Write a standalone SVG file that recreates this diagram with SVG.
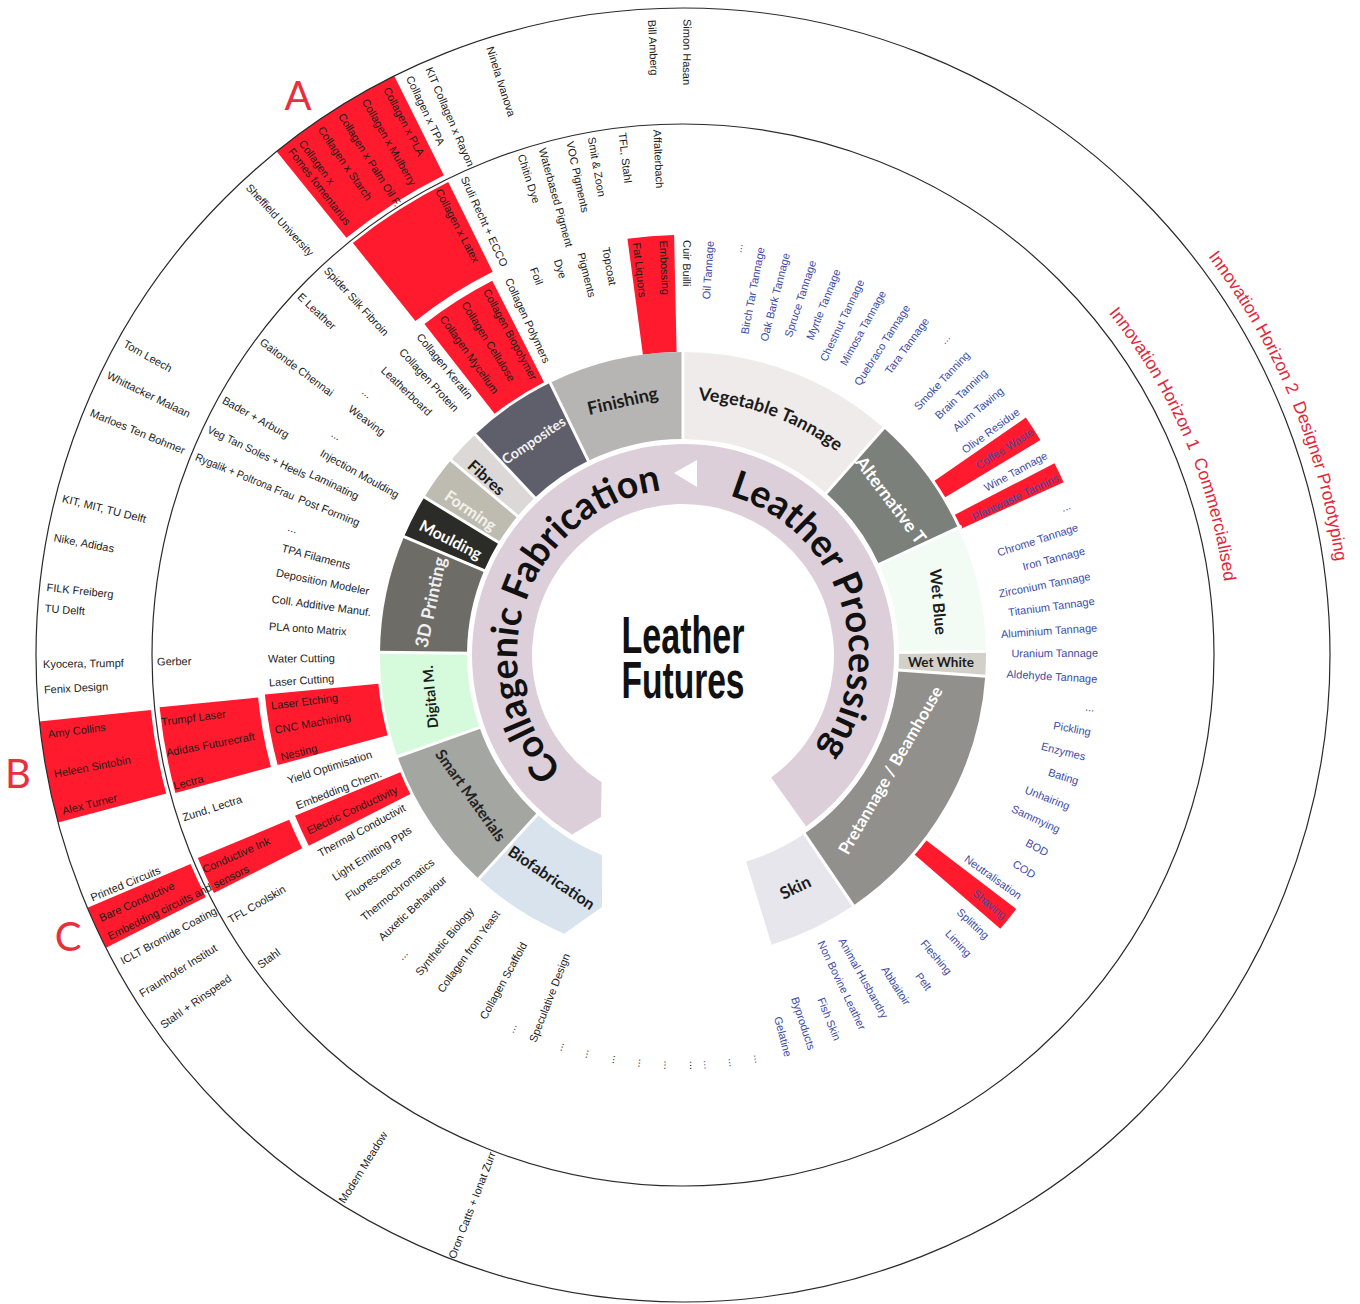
<svg xmlns="http://www.w3.org/2000/svg" width="1360" height="1304" viewBox="0 0 1360 1304">
<defs>
<style>
text{font-family:"Liberation Sans",Arial,sans-serif;font-size:11px;fill:#1b1b1b;dominant-baseline:central}
.bl{fill:#3c4ba8}
.e{text-anchor:end}
.lab{font-family:Lato,"Open Sans",sans-serif;font-weight:700;text-anchor:middle}
.wt{fill:#fff}
.arc{dominant-baseline:auto}
.big{font-family:Lato,"Open Sans",sans-serif;font-weight:700;font-size:38px;fill:#111;dominant-baseline:auto}
.hz{font-size:17.5px;fill:#e3263a;dominant-baseline:auto}
.ctr{font-family:"Liberation Sans",Arial,sans-serif;font-weight:700;font-size:52px;fill:#111;text-anchor:middle;dominant-baseline:auto}
.letter{font-family:Lato,"Liberation Sans",sans-serif;font-size:40px;fill:#e8303c;text-anchor:middle;dominant-baseline:auto}
.ring{fill:none;stroke:#2a2a2a;stroke-width:1.2}
.seg{fill:none;stroke-width:87}
.red{fill:none;stroke:#ff1a2d}
.gap{stroke:#fff;stroke-width:3}
</style>
<path id="arcCollagenic" d="M-120.4,114.3 A166,166 0 0 1 -11.6,-165.6"/>
<path id="arcLeather" d="M46.3,-159.4 A166,166 0 0 1 127.2,106.7"/>
<path id="arcVeg" d="M-43,-251.4 A255,255 0 0 1 196.2,-162.9"/>
<path id="arcH1" d="M425.5,-342.1 A546,546 0 0 1 545.7,-19.1"/>
<path id="arcH2" d="M524.9,-398.4 A659,659 0 0 1 658.6,-23"/>
<clipPath id="clipAlt"><polygon points="0,0 265,-299.6 362.2,-169.7"/></clipPath>
</defs>
<rect width="1360" height="1304" fill="#fff"/>
<g transform="translate(683 655)">

<!-- highlighted cells -->
<g id="highlights">
<circle class="red" r="591.5" stroke-width="111" stroke-dasharray="128.01 4000" transform="rotate(231.1)"/>
<circle class="red" r="478" stroke-width="100" stroke-dasharray="102.61 4000" transform="rotate(231.3)"/>
<circle class="red" r="363" stroke-width="114" stroke-dasharray="69.69 4000" transform="rotate(232)"/>
<circle class="red" r="361.5" stroke-width="117" stroke-dasharray="40.38 4000" transform="rotate(262.4)"/>
<circle class="red" r="361.5" stroke-width="111" stroke-dasharray="23.34 4000" transform="rotate(325.3)"/>
<circle class="red" r="362" stroke-width="112" stroke-dasharray="18.32 4000" transform="rotate(332.7)"/>
<circle class="red" r="362.5" stroke-width="113" stroke-dasharray="22.14 4000" transform="rotate(37.3)"/>
<circle class="red" r="591" stroke-width="112" stroke-dasharray="93.87 4000" transform="rotate(165)"/>
<circle class="red" r="476.5" stroke-width="99" stroke-dasharray="79.01 4000" transform="rotate(164.8)"/>
<circle class="red" r="363" stroke-width="114" stroke-dasharray="62.09 4000" transform="rotate(164.8)"/>
<circle class="red" r="591" stroke-width="112" stroke-dasharray="40.23 4000" transform="rotate(153.1)"/>
<circle class="red" r="476.5" stroke-width="99" stroke-dasharray="34.93 4000" transform="rotate(153.1)"/>
<circle class="red" r="363" stroke-width="114" stroke-dasharray="28.51 4000" transform="rotate(153)"/>
</g>

<g id="horizon-rings">
<circle class="ring" r="531"/>
<circle class="ring" r="647"/>
</g>

<!-- process / technique column -->
<g id="techniques">
<text transform="rotate(90.6)" x="-415">Cuir Builli</text>
<text transform="rotate(87.3)" x="-415">Embossing</text>
<text transform="rotate(83.6)" x="-415">Fat Liquors</text>
<text transform="rotate(79.3)" x="-415">Topcoat</text>
<text transform="rotate(75.8)" x="-415">Pigments</text>
<text transform="rotate(72.4)" x="-415">Dye</text>
<text transform="rotate(68.9)" x="-415">Foil</text>
<text transform="rotate(65.1)" x="-415">Collagen Polymers</text>
<text transform="rotate(61.7)" x="-415">Collagen Biopolymer</text>
<text transform="rotate(58.2)" x="-415">Collagen Cellulose</text>
<text transform="rotate(54.6)" x="-415">Collagen Mycelium</text>
<text transform="rotate(50.5)" x="-415">Collagen Keratin</text>
<text transform="rotate(47.3)" x="-415">Collagen Protein</text>
<text transform="rotate(43.7)" x="-415">Leatherboard</text>
<text transform="rotate(39.7)" x="-415">...</text>
<text transform="rotate(36.6)" x="-415">Weaving</text>
<text transform="rotate(32.4)" x="-415">...</text>
<text transform="rotate(29.3)" x="-415">Injection Moulding</text>
<text transform="rotate(26)" x="-415">Laminating</text>
<text transform="rotate(22.2)" x="-415">Post Forming</text>
<text transform="rotate(18)" x="-415">...</text>
<text transform="rotate(15)" x="-415">TPA Filaments</text>
<text transform="rotate(11.5)" x="-415">Deposition Modeler</text>
<text transform="rotate(7.8)" x="-415">Coll. Additive Manuf.</text>
<text transform="rotate(4)" x="-415">PLA onto Matrix</text>
<text transform="rotate(-0.5)" x="-415">Water Cutting</text>
<text transform="rotate(-3.8)" x="-415">Laser Cutting</text>
<text transform="rotate(-7)" x="-415">Laser Etching</text>
<text transform="rotate(-10.4)" x="-415">CNC Machining</text>
<text transform="rotate(-14.2)" x="-415">Nesting</text>
<text transform="rotate(-17.6)" x="-415">Yield Optimisation</text>
<text transform="rotate(-21.3)" x="-415">Embedding Chem.</text>
<text transform="rotate(-25.1)" x="-415">Electric Conductivity</text>
<text transform="rotate(-28.6)" x="-415">Thermal Conductivit</text>
<text transform="rotate(-32.5)" x="-415">Light Emitting Ppts</text>
<text transform="rotate(-35.8)" x="-415">Fluorescence</text>
<text transform="rotate(-39.4)" x="-415">Thermochromatics</text>
<text transform="rotate(-43.1)" x="-415">Auxetic Behaviour</text>
<text transform="rotate(-46.9)" x="-415">...</text>
<text transform="rotate(-50.2)" x="-415">Synthetic Biology</text>
<text transform="rotate(-54.1)" x="-415">Collagen from Yeast</text>
<text transform="rotate(-61.1)" x="-415">Collagen Scaffold</text>
<text transform="rotate(-65.3)" x="-415">...</text>
<text transform="rotate(-68.7)" x="-415">Speculative Design</text>
<text transform="rotate(-72.4)" x="-415">...</text>
<text transform="rotate(-76)" x="-415">...</text>
<text transform="rotate(-79.8)" x="-415">...</text>
<text transform="rotate(-83.4)" x="-415">...</text>
<text transform="rotate(-87)" x="-415">...</text>
<text transform="rotate(-90.6)" x="-415">...</text>
</g>

<!-- leather processing steps -->
<g id="leather-steps">
<text class="bl e" transform="rotate(-86.3)" x="415">Oil Tannage</text>
<text class="bl e" transform="rotate(-82.3)" x="415">...</text>
<text class="bl e" transform="rotate(-79.2)" x="415">Birch Tar Tannage</text>
<text class="bl e" transform="rotate(-75.6)" x="415">Oak Bark Tannage</text>
<text class="bl e" transform="rotate(-71.8)" x="415">Spruce Tannage</text>
<text class="bl e" transform="rotate(-68.2)" x="415">Myrtle Tannage</text>
<text class="bl e" transform="rotate(-64.6)" x="415">Chestnut Tannage</text>
<text class="bl e" transform="rotate(-61.2)" x="415">Mimosa Tannage</text>
<text class="bl e" transform="rotate(-57.3)" x="415">Quebraco Tannage</text>
<text class="bl e" transform="rotate(-54.1)" x="415">Tara Tannage</text>
<text class="bl e" transform="rotate(-50.4)" x="415">...</text>
<text class="bl e" transform="rotate(-46.7)" x="415">Smoke Tanning</text>
<text class="bl e" transform="rotate(-43.2)" x="415">Brain Tanning</text>
<text class="bl e" transform="rotate(-39.8)" x="415">Alum Tawing</text>
<text class="bl e" transform="rotate(-36.1)" x="415">Olive Residue</text>
<text class="bl e" transform="rotate(-32.7)" x="415">Coffee Waste</text>
<text class="bl e" transform="rotate(-28.9)" x="415">Wine Tannage</text>
<text class="bl e" transform="rotate(-25.4)" x="415">Plantwaste Tannins</text>
<text class="bl e" transform="rotate(-21.2)" x="415">...</text>
<text class="bl e" transform="rotate(-18)" x="415">Chrome Tannage</text>
<text class="bl e" transform="rotate(-14.6)" x="415">Iron Tannage</text>
<text class="bl e" transform="rotate(-11)" x="415">Zirconium Tannage</text>
<text class="bl e" transform="rotate(-7.5)" x="415">Titanium Tannage</text>
<text class="bl e" transform="rotate(-3.8)" x="415">Aluminium Tannage</text>
<text class="bl e" transform="rotate(-0.3)" x="415">Uranium Tannage</text>
<text class="bl e" transform="rotate(3.3)" x="415">Aldehyde Tannage</text>
<text class="bl e" transform="rotate(7.3)" x="415">...</text>
<text class="bl e" transform="rotate(10.7)" x="415">Pickling</text>
<text class="bl e" transform="rotate(14.2)" x="415">Enzymes</text>
<text class="bl e" transform="rotate(17.7)" x="415">Bating</text>
<text class="bl e" transform="rotate(21.4)" x="415">Unhairing</text>
<text class="bl e" transform="rotate(24.9)" x="415">Sammying</text>
<text class="bl e" transform="rotate(28.5)" x="415">BOD</text>
<text class="bl e" transform="rotate(32.1)" x="415">COD</text>
<text class="bl e" transform="rotate(35.6)" x="415">Neutralisation</text>
<text class="bl e" transform="rotate(39.1)" x="415">Shaving</text>
<text class="bl e" transform="rotate(42.8)" x="415">Splitting</text>
<text class="bl e" transform="rotate(46.3)" x="415">Liming</text>
<text class="bl e" transform="rotate(50)" x="415">Fleshing</text>
<text class="bl e" transform="rotate(53.6)" x="415">Pelt</text>
<text class="bl e" transform="rotate(57.2)" x="415">Abbaitoir</text>
<text class="bl e" transform="rotate(60.8)" x="415">Animal Husbandry</text>
<text class="bl e" transform="rotate(64.3)" x="415">Non Bovine Leather</text>
<text class="bl e" transform="rotate(68.1)" x="415">Fish Skin</text>
<text class="bl e" transform="rotate(71.9)" x="415">Byproducts</text>
<text class="bl e" transform="rotate(75.3)" x="415">Gelatine</text>
<text class="bl e" transform="rotate(79.4)" x="415">...</text>
<text class="bl e" transform="rotate(83)" x="415">...</text>
<text class="bl e" transform="rotate(86.5)" x="415">...</text>
</g>

<!-- commercial partners, horizon 1 -->
<g id="horizon1">
<text transform="rotate(87.2)" x="-526">Affalterbach</text>
<text transform="rotate(83.4)" x="-526">TFL, Stahl</text>
<text transform="rotate(80)" x="-526">Smit &amp; Zoon</text>
<text transform="rotate(77.6)" x="-526">VOC Pigments</text>
<text transform="rotate(74.5)" x="-526">Waterbased Pigment</text>
<text transform="rotate(72.1)" x="-526">Chitin Dye</text>
<text transform="rotate(65.4)" x="-526">Sruli Recht + ECCO</text>
<text transform="rotate(62.3)" x="-526">Collagen x Latex</text>
<text transform="rotate(47.3)" x="-526">Spider Silk Fibroin</text>
<text transform="rotate(43.2)" x="-526">E Leather</text>
<text transform="rotate(36.7)" x="-526">Gaitonde Chennai</text>
<text transform="rotate(29.1)" x="-526">Bader + Arburg</text>
<text transform="rotate(25.5)" x="-526" textLength="108" lengthAdjust="spacingAndGlyphs">Veg Tan Soles + Heels</text>
<text transform="rotate(22.2)" x="-526" textLength="106" lengthAdjust="spacingAndGlyphs">Rygalik + Poltrona Frau</text>
<text transform="rotate(-0.7)" x="-526">Gerber</text>
<text transform="rotate(-7.3)" x="-526">Trumpf Laser</text>
<text transform="rotate(-10.7)" x="-526">Adidas Futurecraft</text>
<text transform="rotate(-14.4)" x="-526">Lectra</text>
<text transform="rotate(-18)" x="-526">Zund, Lectra</text>
<text transform="rotate(-24.1)" x="-526">Conductive Ink</text>
<text transform="rotate(-30.3)" x="-526">TFL Coolskin</text>
<text transform="rotate(-36.2)" x="-526">Stahl</text>
</g>

<!-- designers and labs, horizon 2 -->
<g id="horizon2">
<text transform="rotate(90.4)" x="-636">Simon Hasan</text>
<text transform="rotate(87.2)" x="-636">Bill Amberg</text>
<text transform="rotate(72.4)" x="-638">Ninela Ivanova</text>
<text transform="rotate(66.6)" x="-640">KIT Collagen x Rayon</text>
<text transform="rotate(64.7)" x="-640">Collagen x TPA</text>
<text transform="rotate(62.4)" x="-640">Collagen x PLA</text>
<text transform="rotate(60.2)" x="-640">Collagen x Mulberry</text>
<text transform="rotate(57.7)" x="-640">Collagen x Palm Oil F.</text>
<text transform="rotate(55.5)" x="-640">Collagen x Starch</text>
<text transform="rotate(53.4)" x="-640">Collagen x</text>
<text transform="rotate(52.2)" x="-640">Fomes fomentarius</text>
<text transform="rotate(47.2)" x="-640">Sheffield University</text>
<text transform="rotate(29.2)" x="-640">Tom Leech</text>
<text transform="rotate(26)" x="-640">Whittacker Malaan</text>
<text transform="rotate(22.3)" x="-640">Marloes Ten Bohmer</text>
<text transform="rotate(14.2)" x="-640">KIT, MIT, TU Delft</text>
<text transform="rotate(10.6)" x="-640">Nike, Adidas</text>
<text transform="rotate(6.1)" x="-640">FILK Freiberg</text>
<text transform="rotate(4.2)" x="-640">TU Delft</text>
<text transform="rotate(-0.8)" x="-640">Kyocera, Trumpf</text>
<text transform="rotate(-3.1)" x="-640">Fenix Design</text>
<text transform="rotate(-7.1)" x="-640">Amy Collins</text>
<text transform="rotate(-10.7)" x="-640">Heleen Sintobin</text>
<text transform="rotate(-14.1)" x="-640">Alex Turner</text>
<text transform="rotate(-22.3)" x="-640">Printed Circuits</text>
<text transform="rotate(-24.3)" x="-640">Bare Conductive</text>
<text transform="rotate(-26.1)" x="-640">Embedding circuits and sensors</text>
<text transform="rotate(-28.6)" x="-640">ICLT Bromide Coating</text>
<text transform="rotate(-32)" x="-640">Fraunhofer Institut</text>
<text transform="rotate(-35.4)" x="-640">Stahl + Rinspeed</text>
<text transform="rotate(-58)" x="-645">Modern Meadow</text>
<text transform="rotate(-69)" x="-646">Oron Catts + Ionat Zurr</text>
</g>

<!-- category ring -->
<g id="categories">
<circle class="seg" r="259.5" stroke="#b6b5b3" stroke-dasharray="117.76 2000" transform="rotate(244)"/>
<circle class="seg" r="259.5" stroke="#eeebea" stroke-dasharray="187.96 2000" transform="rotate(270)"/>
<circle class="seg" r="259.5" stroke="#7c807b" stroke-dasharray="107.34 2000" transform="rotate(311.5)"/>
<circle class="seg" r="259.5" stroke="#f3fcf4" stroke-dasharray="109.15 2000" transform="rotate(335.2)"/>
<circle class="seg" r="259.5" stroke="#d2d1c9" stroke-dasharray="21.29 2000" transform="rotate(-0.7)"/>
<circle class="seg" r="259.5" stroke="#92908c" stroke-dasharray="234.61 2000" transform="rotate(4)"/>
<circle class="seg" r="259.5" stroke="#e6e6ec" stroke-dasharray="77.9 2000" transform="rotate(55.8)"/>
<path fill="#d8e3ed" d="M-203.9,224.1 A303,303 0 0 0 -118.9,278.7 L-81,252 L-80.9,200.3 A216,216 0 0 1 -145.4,159.8 Z"/>
<circle class="seg" r="259.5" stroke="#a4a6a2" stroke-dasharray="126.81 2000" transform="rotate(132.4)"/>
<circle class="seg" r="259.5" stroke="#d6fbdc" stroke-dasharray="91.03 2000" transform="rotate(160.4)"/>
<circle class="seg" r="259.5" stroke="#6e6c67" stroke-dasharray="101.9 2000" transform="rotate(180.5)"/>
<circle class="seg" r="259.5" stroke="#2b2b27" stroke-dasharray="38.04 2000" transform="rotate(203)"/>
<circle class="seg" r="259.5" stroke="#bebcb1" stroke-dasharray="38.95 2000" transform="rotate(211.4)"/>
<circle class="seg" r="259.5" stroke="#dcd8d8" stroke-dasharray="30.34 2000" transform="rotate(220)"/>
<circle class="seg" r="259.5" stroke="#5f5e6b" stroke-dasharray="78.35 2000" transform="rotate(226.7)"/>
<g class="gap">
<line x1="212" x2="307" transform="rotate(244)"/>
<line x1="212" x2="307" transform="rotate(270)"/>
<line x1="212" x2="307" transform="rotate(311.5)"/>
<line x1="212" x2="307" transform="rotate(335.2)"/>
<line x1="212" x2="307" transform="rotate(359.3)"/>
<line x1="212" x2="307" transform="rotate(4)"/>
<line x1="212" x2="307" transform="rotate(55.8)"/>
<line x1="212" x2="307" transform="rotate(132.4)"/>
<line x1="212" x2="307" transform="rotate(160.4)"/>
<line x1="212" x2="307" transform="rotate(180.5)"/>
<line x1="212" x2="307" transform="rotate(203)"/>
<line x1="212" x2="307" transform="rotate(211.4)"/>
<line x1="212" x2="307" transform="rotate(220)"/>
<line x1="212" x2="307" transform="rotate(226.7)"/>
</g>
</g>

<!-- inner domain ring -->
<g id="domains">
<path fill="#dccfd9" d="M-110.9,179.5 A211,211 0 1 1 123.1,171.4 L88.1,122.6 A151,151 0 1 0 -81.4,127.2 L-82,162 Z"/>
<polygon points="-9,-182 14,-195 14,-168" fill="#fff"/>
<text class="big"><textPath href="#arcCollagenic" textLength="365" lengthAdjust="spacingAndGlyphs">Collagenic Fabrication</textPath></text>
<text class="big"><textPath href="#arcLeather" textLength="315" lengthAdjust="spacingAndGlyphs">Leather Processing</textPath></text>
</g>

<!-- category labels -->
<g id="category-labels">
<text class="lab" style="font-size:18px" transform="translate(-60.5,-255) rotate(-13)">Finishing</text>
<text class="lab arc" style="font-size:18px"><textPath href="#arcVeg" startOffset="50%">Vegetable Tannage</textPath></text>
<text class="lab" style="font-size:14px;fill:#f2f2f2" transform="translate(-149.7,-215) rotate(-34)">Composites</text>
<g clip-path="url(#clipAlt)"><text class="lab wt" style="font-size:18px" transform="translate(208.3,-155.5) rotate(53)">Alternative T</text></g>
<text class="lab" style="font-size:16px" transform="translate(256.2,-53.3) rotate(85)">Wet Blue</text>
<text class="lab" style="font-size:13.5px" transform="translate(258,6.5)">Wet White</text>
<text class="lab wt" style="font-size:17px" transform="translate(207,115) rotate(-60)">Pretannage / Beamhouse</text>
<text class="lab" style="font-size:17px" transform="translate(112,232) rotate(-26)">Skin</text>
<text class="lab" style="font-size:16px" transform="translate(-131,222) rotate(34)">Biofabrication</text>
<text class="lab" style="font-size:15.5px;fill:#222" transform="translate(-212,140) rotate(54.5)">Smart Materials</text>
<text class="lab" style="font-size:14.5px" transform="translate(-253,42) rotate(-95)">Digital M.</text>
<text class="lab" style="font-size:18px;fill:#efefef" transform="translate(-253,-53) rotate(-78)">3D Printing</text>
<text class="lab wt" style="font-size:16px" transform="translate(-232,-116) rotate(27)">Moulding</text>
<text class="lab" style="font-size:16px;fill:#f4f2ea" transform="translate(-212,-145) rotate(34.5)">Forming</text>
<text class="lab" style="font-size:16px" transform="translate(-196,-178) rotate(42)">Fibres</text>
</g>

<g id="title">
<text class="ctr" x="0" y="-2" textLength="123" lengthAdjust="spacingAndGlyphs">Leather</text>
<text class="ctr" x="0" y="43" textLength="123" lengthAdjust="spacingAndGlyphs">Futures</text>
</g>

<g id="horizon-labels">
<text class="hz"><textPath href="#arcH1">Innovation Horizon 1<tspan dx="10">Commercialised</tspan></textPath></text>
<text class="hz"><textPath href="#arcH2">Innovation Horizon 2<tspan dx="10">Designer Prototyping</tspan></textPath></text>
</g>
</g>

<g id="markers">
<text class="letter" x="298" y="110">A</text>
<text class="letter" x="18" y="788">B</text>
<text class="letter" x="68" y="951">C</text>
</g>
</svg>
